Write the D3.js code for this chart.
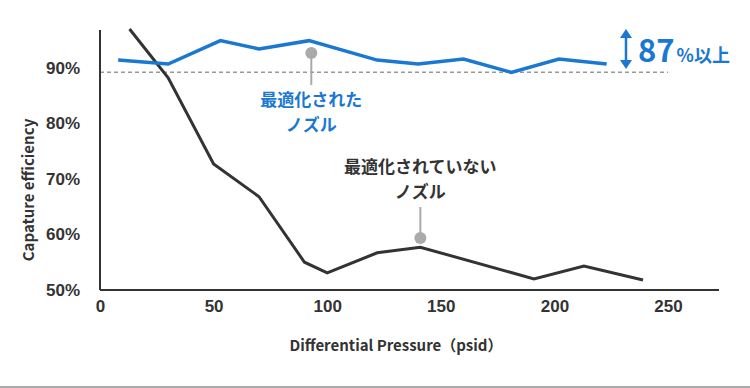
<!DOCTYPE html>
<html>
<head>
<meta charset="utf-8">
<script src="https://cdn.jsdelivr.net/npm/d3@7"></script>
<style>
  body { margin: 0; background: #fff; }
  svg { display: block; font-family: "Noto Sans CJK JP", "Noto Sans", sans-serif; }
  .axis text { font-size: 17px; font-weight: 600; fill: #333; }
  .axis path { stroke: #333; stroke-width: 2px; }
</style>
</head>
<body>
<script>
// data
var optPressure = [8, 30, 53, 70, 92, 122, 140, 160, 181, 202, 223];
var optEfficiency = [91.4, 90.7, 94.9, 93.4, 94.9, 91.4, 90.7, 91.6, 89.2, 91.6, 90.7];
var rawPressure = [13, 30, 50, 70, 90, 100, 122, 141, 191, 213, 239];
var rawEfficiency = [97.0, 88.2, 72.7, 66.8, 55.0, 53.1, 56.7, 57.7, 52.0, 54.3, 51.8];
var yTicks = [50, 60, 70, 80, 90];
var xTicks = [0, 50, 100, 150, 200, 250];
var threshold = 89.2;

var width = 750, height = 388;

var svg = d3.select("body").append("svg")
    .attr("width", width)
    .attr("height", height);

// Set the ranges
var x = d3.scaleLinear().domain([0, 272]).range([100, 718]);
var y = d3.scaleLinear().domain([50, 97]).range([290, 29]);

// dashed reference line
svg.append("line")
    .attr("x1", x(0)).attr("x2", x(250))
    .attr("y1", y(threshold)).attr("y2", y(threshold))
    .attr("stroke", "#999")
    .attr("stroke-width", 1.5)
    .attr("stroke-dasharray", "4,3");

// axes
svg.append("g")
    .attr("class", "axis")
    .attr("transform", "translate(0,290)")
    .call(d3.axisBottom(x).tickValues(xTicks).tickSize(0).tickPadding(10))
    .select(".domain").attr("d", "M100,0H719");

svg.append("g")
    .attr("class", "axis")
    .attr("transform", "translate(100,0)")
    .call(d3.axisLeft(y).tickValues(yTicks).tickSize(0).tickPadding(20)
        .tickFormat(function(d) { return d + "%"; }))
    .select(".domain").attr("d", "M0,290V30");

// axis titles
svg.append("text")
    .attr("transform", "translate(34,190) rotate(-90)")
    .attr("text-anchor", "middle")
    .style("font-size", "15px")
    .style("font-weight", 700)
    .attr("fill", "#333")
    .text("Capature efficiency");

svg.append("text")
    .attr("x", 396).attr("y", 351)
    .attr("text-anchor", "middle")
    .style("font-size", "15px")
    .style("font-weight", 700)
    .attr("fill", "#333")
    .text("Differential Pressure（psid）");

// lines
var line = d3.line()
    .x(function(d) { return x(d[0]); })
    .y(function(d) { return y(d[1]); });

svg.append("path")
    .datum(d3.zip(rawPressure, rawEfficiency))
    .attr("fill", "none")
    .attr("stroke", "#333")
    .attr("stroke-width", 3)
    .attr("d", line);

svg.append("path")
    .datum(d3.zip(optPressure, optEfficiency))
    .attr("fill", "none")
    .attr("stroke", "#1a78d2")
    .attr("stroke-width", 3.5)
    .attr("d", line);

// annotations
function pointer(cx, cy, y2) {
    svg.append("line")
        .attr("x1", cx).attr("x2", cx)
        .attr("y1", cy).attr("y2", y2)
        .attr("stroke", "#aaa")
        .attr("stroke-width", 2);
    svg.append("circle")
        .attr("cx", cx).attr("cy", cy)
        .attr("r", 6)
        .attr("fill", "#aaa");
}

function label(lines, cx, y0, color) {
    lines.forEach(function(t, i) {
        svg.append("text")
            .attr("x", cx).attr("y", y0 + i * 25)
            .attr("text-anchor", "middle")
            .style("font-size", "17px")
            .style("font-weight", 700)
            .attr("fill", color)
            .text(t);
    });
}

pointer(x(93), 53, 85);
pointer(x(141), 238, 207);

label(["最適化された", "ノズル"], x(93), 106, "#1a78d2");
label(["最適化されていない", "ノズル"], x(141), 173, "#333");

// double arrow
var ax = 626;
svg.append("line")
    .attr("x1", ax).attr("x2", ax)
    .attr("y1", 34).attr("y2", 64)
    .attr("stroke", "#1a78d2")
    .attr("stroke-width", 2.5);
svg.append("path")
    .attr("d", "M" + (ax - 6) + ",38L" + ax + ",29L" + (ax + 6) + ",38Z")
    .attr("fill", "#1a78d2");
svg.append("path")
    .attr("d", "M" + (ax - 6) + ",60L" + ax + ",69L" + (ax + 6) + ",60Z")
    .attr("fill", "#1a78d2");

var big = svg.append("text")
    .attr("x", 638).attr("y", 62)
    .attr("fill", "#1a78d2")
    .style("font-weight", 700);
big.append("tspan").style("font-size", "31px").text("87");
big.append("tspan").style("font-size", "18px").attr("dx", 2).text("%以上");

// bottom rule
svg.append("line")
    .attr("x1", 0).attr("x2", width)
    .attr("y1", 387).attr("y2", 387)
    .attr("stroke", "#555")
    .attr("stroke-width", 1);
</script>
</body>
</html>
